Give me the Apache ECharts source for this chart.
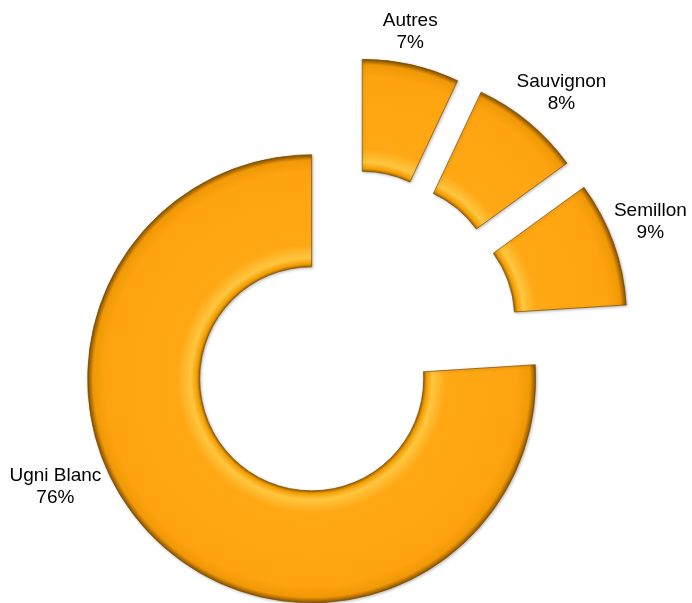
<!DOCTYPE html>
<html>
<head>
<meta charset="utf-8">
<script src="https://cdn.jsdelivr.net/npm/echarts@6/dist/echarts.min.js"></script>
<style>
  html, body { margin: 0; padding: 0; background: #fff; }
  #chart { width: 692px; height: 603px; }
</style>
</head>
<body>
<div id="chart"></div>
<script>
// cépages, parts en %
const categories = ['Autres', 'Sauvignon', 'Semillon', 'Ugni Blanc']
const shares = [7, 8, 9, 76]

// mise en page
const pieCenter = [350, 338]
const explode = 56
const radius = [112, 224]
const labelAngle = [10.8, 41, 68.6, 247.2]   // degrés depuis midi, sens horaire
const labelDist = [256, 268, 266, 278]

const total = shares.reduce((a, b) => a + b, 0)
const rad = d => d * Math.PI / 180

const bevel = (cx, cy) => ({
  type: 'radial', x: cx, y: cy, r: radius[1], global: true,
  colorStops: [
    {offset: 0.500, color: '#a06600'},
    {offset: 0.512, color: '#f29c00'},
    {offset: 0.540, color: '#ffc640'},
    {offset: 0.600, color: '#ffa814'},
    {offset: 0.920, color: '#ffa410'},
    {offset: 0.975, color: '#f09806'},
    {offset: 1.000, color: '#8a5400'}
  ]
})

let cum = 0
const series = shares.map((v, i) => {
  const mid = (cum + v / 2) / total * 360
  cum += v
  const cx = pieCenter[0] + explode * Math.sin(rad(mid))
  const cy = pieCenter[1] - explode * Math.cos(rad(mid))
  const lx = cx + labelDist[i] * Math.sin(rad(labelAngle[i]))
  const ly = cy - labelDist[i] * Math.cos(rad(labelAngle[i]))
  return {
    type: 'pie',
    center: [cx, cy],
    radius: radius,
    startAngle: 90,
    clockwise: true,
    silent: true,
    avoidLabelOverlap: false,
    percentPrecision: 0,
    labelLine: {show: false},
    emphasis: {disabled: true},
    labelLayout: () => ({x: lx, y: ly, align: 'center', verticalAlign: 'middle'}),
    data: categories.map((name, j) => j === i ? {
      name: name, value: shares[j],
      itemStyle: {
        color: bevel(cx, cy), borderColor: '#7a4a00', borderWidth: 0.7,
        shadowBlur: 3, shadowColor: 'rgba(0,0,0,0.25)', shadowOffsetX: 1, shadowOffsetY: 1
      },
      label: {
        show: true, position: 'outside', formatter: '{b}\n{d}%',
        fontFamily: 'Liberation Sans, Arial, sans-serif', fontSize: 19,
        lineHeight: 22, color: '#000', align: 'center'
      }
    } : {
      name: name, value: shares[j],
      itemStyle: {color: 'rgba(0,0,0,0)', borderWidth: 0},
      label: {show: false}
    })
  }
})

const chart = echarts.init(document.getElementById('chart'))
chart.setOption({
  animation: false,
  backgroundColor: '#fff',
  series: series
})
</script>
</body>
</html>
